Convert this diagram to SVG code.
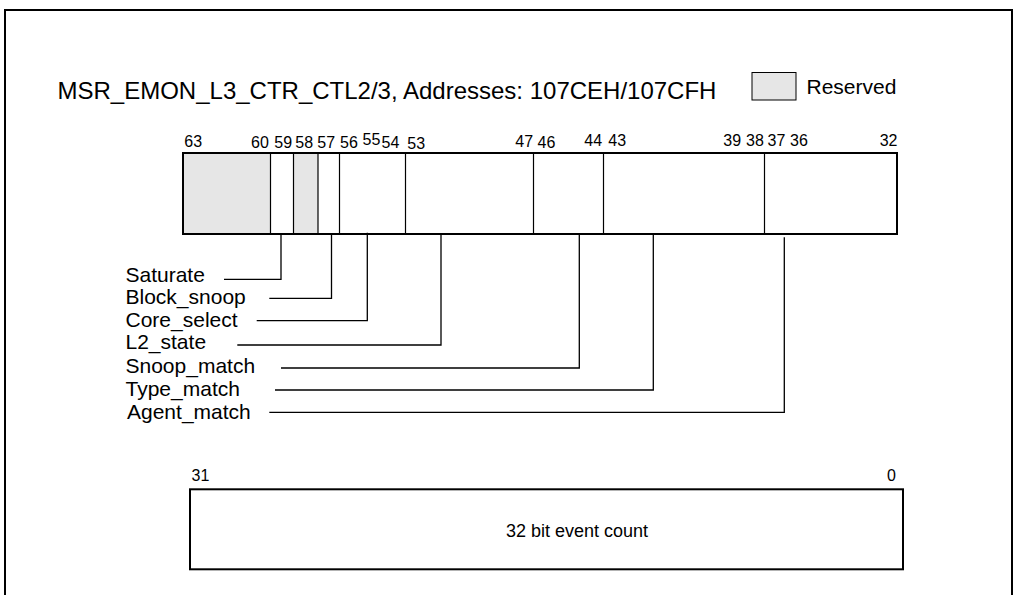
<svg xmlns="http://www.w3.org/2000/svg" width="1016" height="595" viewBox="0 0 1016 595">
<style>
text{font-family:"Liberation Sans",Arial,sans-serif;fill:#000}
.bit{font-size:16px}
.lbl{font-size:21px}
.title{font-size:24px}
.box{fill:#fff;stroke:#000;stroke-width:2}
.div{stroke:#000;stroke-width:1.2;fill:none}
.res{fill:#e6e6e6;stroke:none}
.lead{stroke:#000;stroke-width:1.3;fill:none}
</style>
<rect width="1016" height="595" fill="#fff"/>
<path d="M5,600 V10 H1012 V600" fill="none" stroke="#000" stroke-width="2"/>
<g id="title"><text class="title" x="57.5" y="99">MSR_EMON_L3_CTR_CTL2/3, Addresses: 107CEH/107CFH</text></g>
<g id="legend">
<rect x="752" y="72.5" width="44" height="27.5" fill="#e6e6e6" stroke="#000" stroke-width="1"/>
<text class="lbl" x="806.5" y="93.5">Reserved</text>
</g>
<g id="register-high">
<rect class="box" x="183" y="153" width="714" height="81"/>
<rect class="res" x="184" y="154" width="86.5" height="79"/>
<rect class="res" x="293.5" y="154" width="24.5" height="79"/>
<line class="div" x1="270.5" y1="153" x2="270.5" y2="234"/>
<line class="div" x1="293.5" y1="153" x2="293.5" y2="234"/>
<line class="div" x1="318" y1="153" x2="318" y2="234"/>
<line class="div" x1="339.5" y1="153" x2="339.5" y2="234"/>
<line class="div" x1="405.5" y1="153" x2="405.5" y2="234"/>
<line class="div" x1="533.5" y1="153" x2="533.5" y2="234"/>
<line class="div" x1="603.5" y1="153" x2="603.5" y2="234"/>
<line class="div" x1="764.5" y1="153" x2="764.5" y2="234"/>
<rect x="183" y="153" width="714" height="81" fill="none" stroke="#000" stroke-width="2"/>
<text class="bit" x="184.3" y="146.5">63</text>
<text class="bit" x="251" y="147.5">60</text>
<text class="bit" x="274.3" y="147.5">59</text>
<text class="bit" x="295.3" y="147.5">58</text>
<text class="bit" x="317.3" y="147.5">57</text>
<text class="bit" x="340" y="147.5">56</text>
<text class="bit" x="362.6" y="145.3">55</text>
<text class="bit" x="381.6" y="148.3">54</text>
<text class="bit" x="407.3" y="148.8">53</text>
<text class="bit" x="515.3" y="146.7">47</text>
<text class="bit" x="537.6" y="148.3">46</text>
<text class="bit" x="584.3" y="146">44</text>
<text class="bit" x="608.3" y="146">43</text>
<text class="bit" x="723.3" y="146">39</text>
<text class="bit" x="746" y="146">38</text>
<text class="bit" x="767.6" y="146">37</text>
<text class="bit" x="790" y="146">36</text>
<text class="bit" x="897.5" y="146" text-anchor="end">32</text>
</g>
<g id="fields">
<text class="lbl" x="125.5" y="281.7">Saturate</text>
<text class="lbl" x="125.5" y="304">Block_snoop</text>
<text class="lbl" x="125.5" y="326.7">Core_select</text>
<text class="lbl" x="125.5" y="349.3">L2_state</text>
<text class="lbl" x="125.5" y="372.7">Snoop_match</text>
<text class="lbl" x="125.5" y="396">Type_match</text>
<text class="lbl" x="127" y="418.7">Agent_match</text>
</g>
<g id="connectors">
<polyline class="lead" points="224,279.3 281,279.3 281,234"/>
<polyline class="lead" points="269.3,298.3 331.5,298.3 331.5,234"/>
<polyline class="lead" points="256.7,320.7 367.3,320.7 367.3,232.7"/>
<polyline class="lead" points="237.3,345 441,345 441,234"/>
<polyline class="lead" points="281,368 579.3,368 579.3,233.3"/>
<polyline class="lead" points="275,390 653.3,390 653.3,234"/>
<polyline class="lead" points="269.3,412.3 784.3,412.3 784.3,237.3"/>
</g>
<g id="register-low">
<rect class="box" x="190" y="489.3" width="713" height="80"/>
<text class="bit" x="191.6" y="480.7">31</text>
<text class="bit" x="896" y="481" text-anchor="end">0</text>
<text style="font-size:18px" x="577" y="537" text-anchor="middle">32 bit event count</text>
</g>
</svg>
